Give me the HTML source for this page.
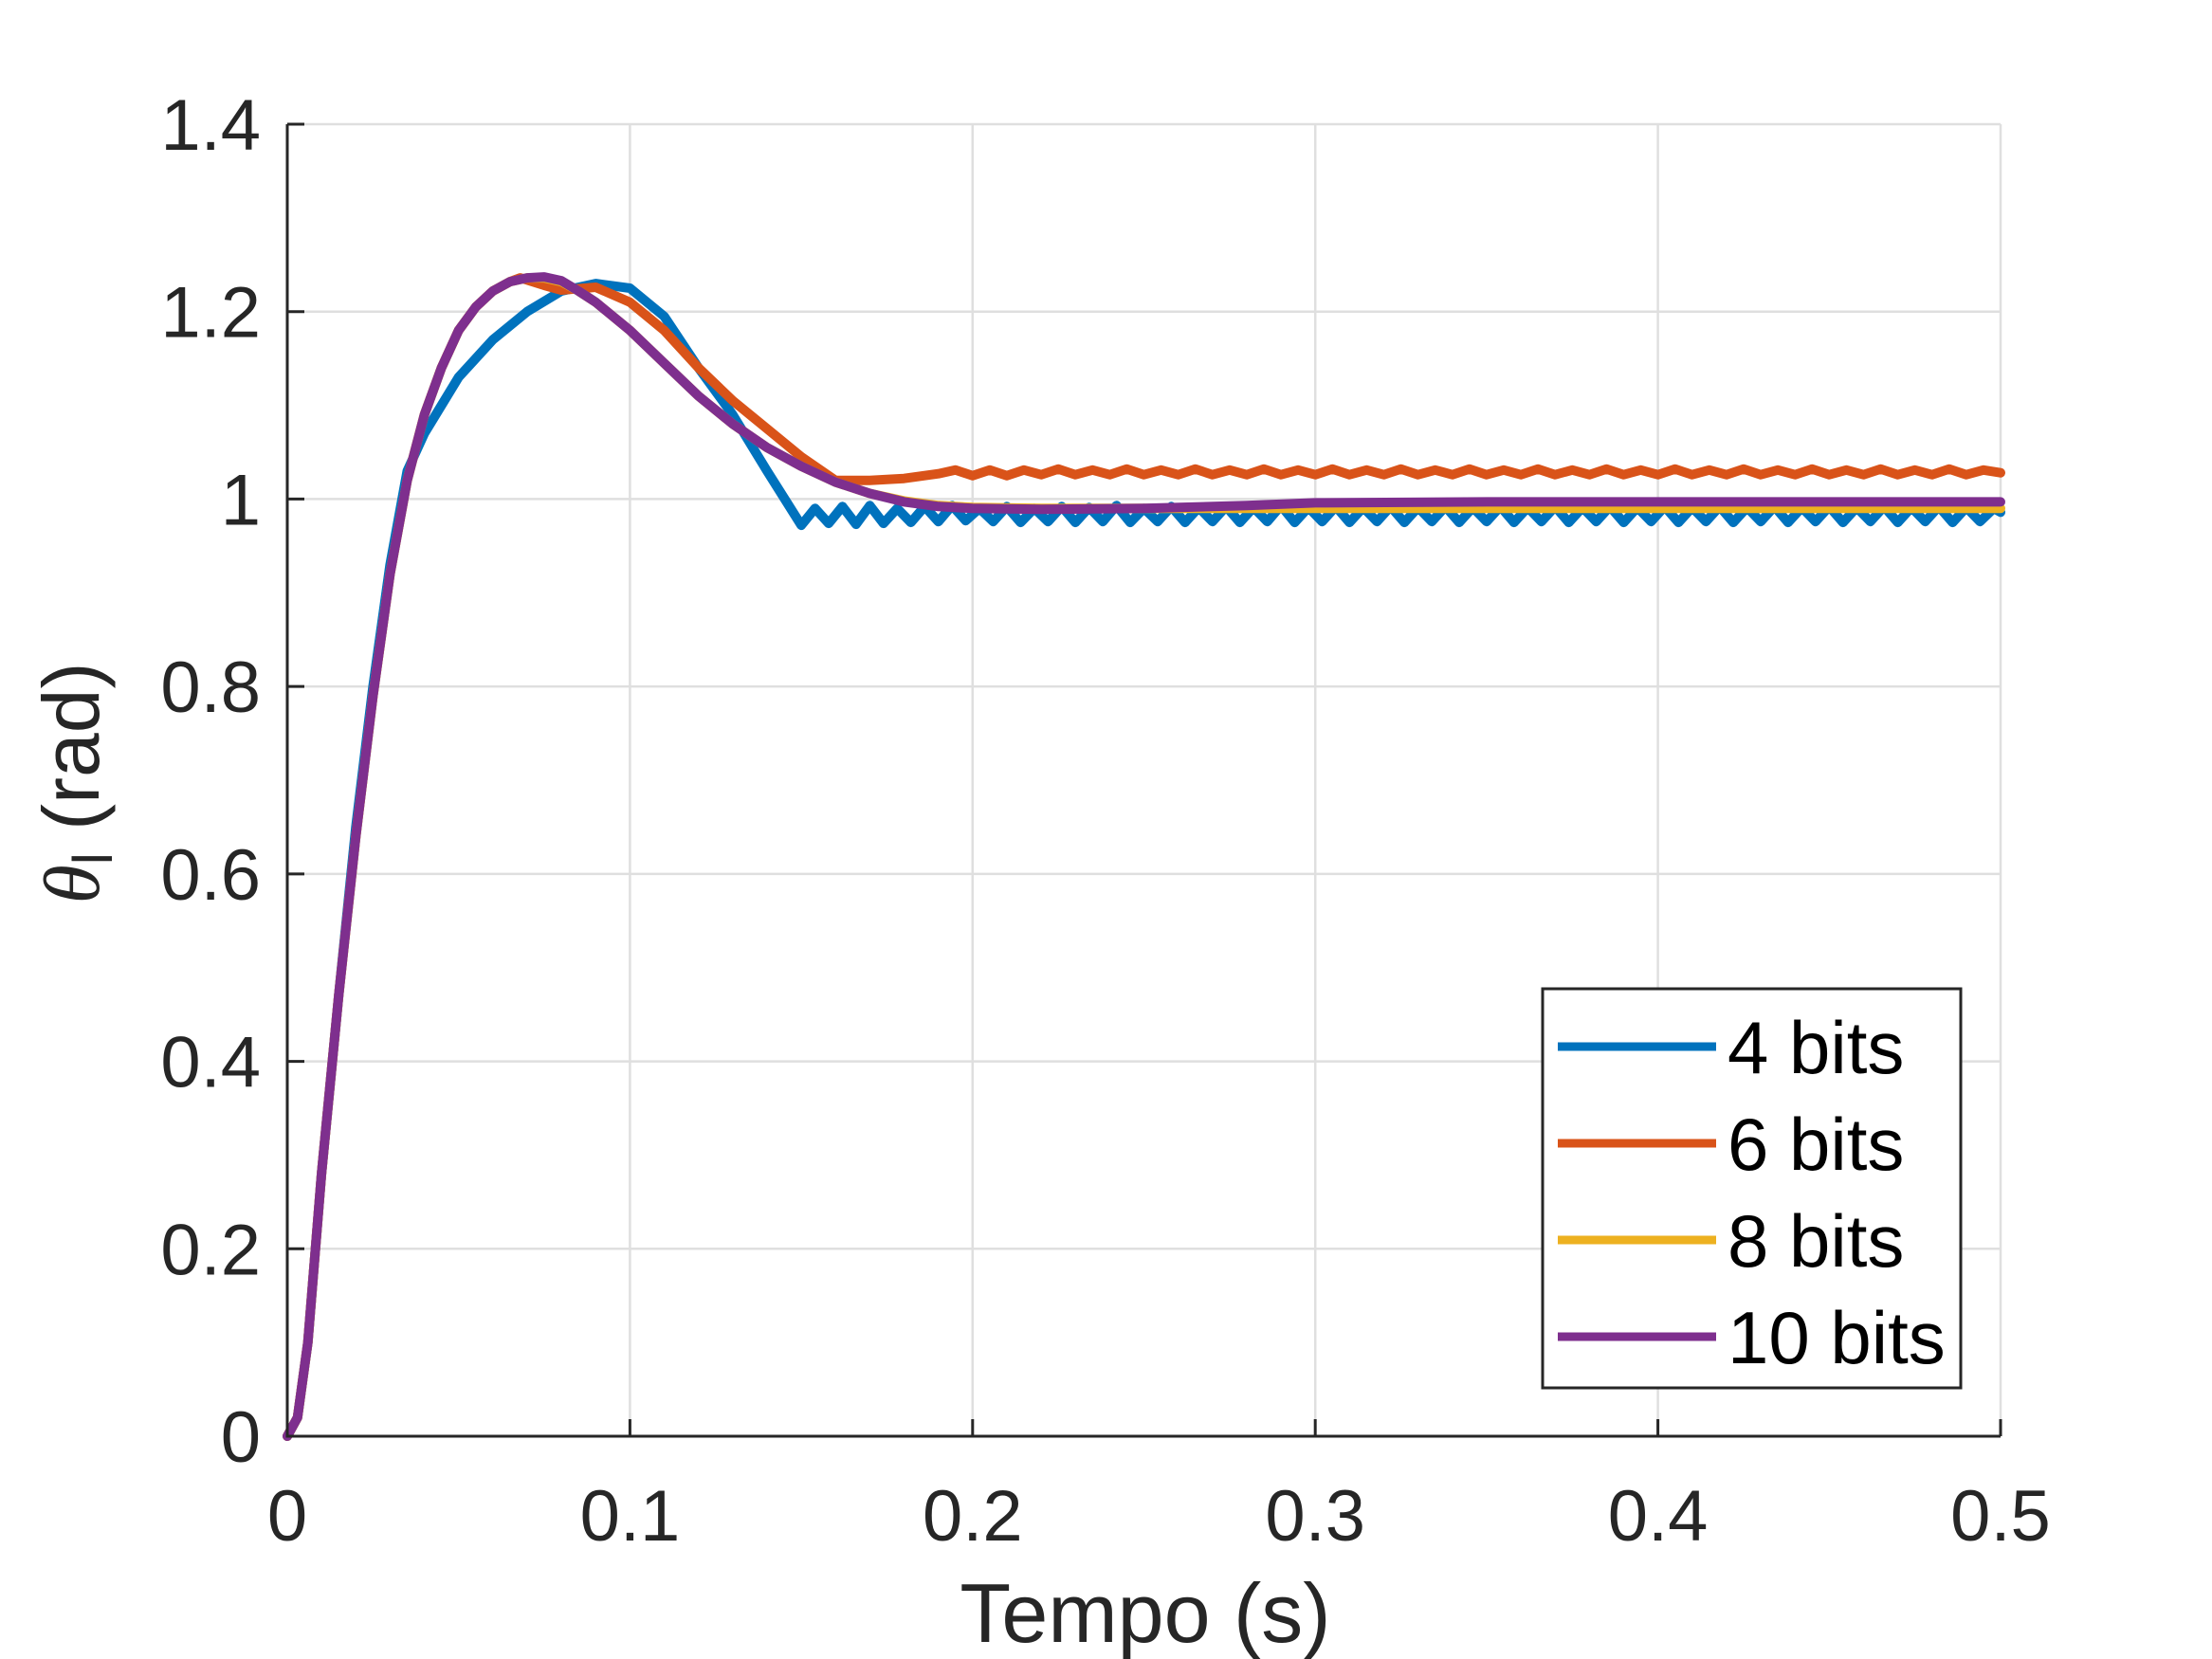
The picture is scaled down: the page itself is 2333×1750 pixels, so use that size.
<!DOCTYPE html>
<html><head><meta charset="utf-8"><style>
html,body{margin:0;padding:0;background:#fff;}
svg{display:block;font-family:"Liberation Sans",Arial,sans-serif;}
</style></head><body>
<svg id="chart" width="2333" height="1750" viewBox="0 0 2333 1750" xmlns="http://www.w3.org/2000/svg">
<rect width="2333" height="1750" fill="#fff"/>
<g id="grid"></g>
<g id="series"></g>
<g id="axes"></g>
<text x="1208" y="1732" font-size="88" fill="#262626" text-anchor="middle">Tempo (s)</text>
<text transform="translate(104,826) rotate(-90)" font-size="84" fill="#262626" text-anchor="middle"><tspan font-family="Liberation Serif" font-style="italic">θ</tspan><tspan font-size="58" dy="14">l</tspan><tspan dy="-14"> (rad)</tspan></text>
<g id="legend"></g>
</svg>
<script>
const xTicks=[0,0.1,0.2,0.3,0.4,0.5];
const yTicks=[0,0.2,0.4,0.6,0.8,1,1.2,1.4];
const xTickLabels=["0","0.1","0.2","0.3","0.4","0.5"];
const yTickLabels=["0","0.2","0.4","0.6","0.8","1","1.2","1.4"];
const seriesNames=["4 bits","6 bits","8 bits","10 bits"];
const seriesColors=["#0072BD","#D95319","#EDB120","#7E2F8E"];

const tBlue=[0,0.003,0.006,0.01,0.015,0.02,0.025,0.03,0.035,0.04,0.045,0.05,0.06,0.07,0.08,0.09,0.1,0.11,0.12,0.13,0.14,0.15,
0.154,0.158,0.162,0.166,0.17,0.174,0.178,0.182,0.186,0.19,0.194,0.198,0.202,0.206,0.21,0.214,0.218,0.222,0.226,0.23,0.234,0.238,0.242,0.246,0.25,0.254,0.258,0.262,0.266,0.27,0.274,0.278,0.282,0.286,0.29,0.294,0.298,0.302,0.306,0.31,0.314,0.318,0.322,0.326,0.33,0.334,0.338,0.342,0.346,0.35,0.354,0.358,0.362,0.366,0.37,0.374,0.378,0.382,0.386,0.39,0.394,0.398,0.402,0.406,0.41,0.414,0.418,0.422,0.426,0.43,0.434,0.438,0.442,0.446,0.45,0.454,0.458,0.462,0.466,0.47,0.474,0.478,0.482,0.486,0.49,0.494,0.498,0.5];
const yBlue=[0,0.02,0.1,0.28,0.47,0.65,0.8,0.93,1.03,1.07,1.1,1.13,1.17,1.2,1.222,1.23,1.225,1.195,1.14,1.09,1.03,0.972,
0.99,0.974,0.992,0.973,0.993,0.974,0.99,0.975,0.992,0.976,0.993,0.977,0.99,0.976,0.992,0.975,0.99,0.976,0.992,0.975,0.991,0.976,0.993,0.975,0.99,0.976,0.992,0.975,0.991,0.976,0.992,0.975,0.991,0.976,0.993,0.975,0.991,0.976,0.992,0.975,0.991,0.976,0.992,0.975,0.991,0.976,0.992,0.975,0.991,0.976,0.992,0.975,0.991,0.976,0.992,0.975,0.991,0.976,0.992,0.975,0.991,0.976,0.992,0.975,0.991,0.976,0.992,0.975,0.991,0.976,0.992,0.975,0.991,0.976,0.992,0.975,0.991,0.976,0.992,0.975,0.991,0.976,0.992,0.975,0.991,0.976,0.99,0.986];

const tOrange=[0,0.003,0.006,0.01,0.015,0.02,0.025,0.03,0.035,0.04,0.045,0.05,0.055,0.06,0.065,0.068,0.075,0.08,0.09,0.1,0.11,0.12,0.13,0.14,0.15,0.16,0.17,0.18,0.19,0.195,
0.2,0.205,0.21,0.215,0.22,0.225,0.23,0.235,0.24,0.245,0.25,0.255,0.26,0.265,0.27,0.275,0.28,0.285,0.29,0.295,0.3,0.305,0.31,0.315,0.32,0.325,0.33,0.335,0.34,0.345,0.35,0.355,0.36,0.365,0.37,0.375,0.38,0.385,0.39,0.395,0.4,0.405,0.41,0.415,0.42,0.425,0.43,0.435,0.44,0.445,0.45,0.455,0.46,0.465,0.47,0.475,0.48,0.485,0.49,0.495,0.5];
const yOrange=[0,0.02,0.1,0.28,0.47,0.64,0.79,0.92,1.02,1.09,1.14,1.18,1.205,1.222,1.232,1.236,1.228,1.223,1.226,1.21,1.18,1.14,1.105,1.075,1.045,1.02,1.02,1.022,1.027,1.031,
1.025,1.031,1.025,1.031,1.026,1.032,1.026,1.031,1.026,1.032,1.026,1.031,1.026,1.032,1.026,1.031,1.026,1.032,1.026,1.031,1.026,1.032,1.026,1.031,1.026,1.032,1.026,1.031,1.026,1.032,1.026,1.031,1.026,1.032,1.026,1.031,1.026,1.032,1.026,1.031,1.026,1.032,1.026,1.031,1.026,1.032,1.026,1.031,1.026,1.032,1.026,1.031,1.026,1.032,1.026,1.031,1.026,1.032,1.026,1.031,1.028];

const tSmooth=[0,0.003,0.006,0.01,0.015,0.02,0.025,0.03,0.035,0.04,0.045,0.05,0.055,0.06,0.065,0.07,0.075,0.08,0.085,0.09,0.1,0.11,0.12,0.13,0.14,0.15,0.16,0.17,0.18,0.19,0.2,0.22,0.25,0.28,0.3,0.35,0.4,0.45,0.5];
const yYellow=[0,0.02,0.1,0.28,0.47,0.64,0.79,0.92,1.02,1.09,1.14,1.18,1.205,1.222,1.232,1.236,1.236,1.232,1.222,1.21,1.18,1.145,1.11,1.08,1.055,1.035,1.018,1.006,0.998,0.993,0.991,0.99,0.99,0.99,0.99,0.99,0.99,0.99,0.99];
const yPurple=[0,0.02,0.1,0.28,0.47,0.64,0.79,0.92,1.02,1.09,1.14,1.18,1.205,1.222,1.232,1.236,1.237,1.233,1.222,1.21,1.18,1.145,1.11,1.08,1.055,1.035,1.018,1.006,0.997,0.992,0.99,0.989,0.99,0.993,0.996,0.997,0.997,0.997,0.997];

const L=303,R=2110,T=131,B=1515;
const sx=v=>L+(v-0)/(0.5)*(R-L);
const sy=v=>B-(v-0)/(1.4)*(B-T);
const NS="http://www.w3.org/2000/svg";
function mk(tag,attrs,parent){const e=document.createElementNS(NS,tag);for(const k in attrs)e.setAttribute(k,attrs[k]);parent.appendChild(e);return e;}
const grid=document.getElementById('grid'),axes=document.getElementById('axes'),ser=document.getElementById('series'),leg=document.getElementById('legend');

xTicks.forEach((v,i)=>{
  const g=mk('line',{x1:sx(v),x2:sx(v),y1:T,y2:B,stroke:'#dfdfdf','stroke-width':2.5},grid);
  
  
  const t=mk('line',{x1:sx(v),x2:sx(v),y1:B,y2:B-18,stroke:'#262626','stroke-width':3},axes);
  
  
  const l=mk('text',{x:sx(v),y:1625,'font-size':76,fill:'#262626','text-anchor':'middle'},axes);
  l.textContent=xTickLabels[i];
  
  
});
yTicks.forEach((v,i)=>{
  const g=mk('line',{x1:L,x2:R,y1:sy(v),y2:sy(v),stroke:'#dfdfdf','stroke-width':2.5},grid);
  
  
  const t=mk('line',{x1:L,x2:L+18,y1:sy(v),y2:sy(v),stroke:'#262626','stroke-width':3},axes);
  
  
  const l=mk('text',{x:275,y:sy(v)+27,'font-size':76,fill:'#262626','text-anchor':'end'},axes);
  l.textContent=yTickLabels[i];
  
  
});
const ax=mk('path',{d:`M${L},${T} L${L},${B} L${R},${B}`,fill:'none',stroke:'#262626','stroke-width':3},axes);



const all=[[tBlue,yBlue],[tOrange,yOrange],[tSmooth,yYellow],[tSmooth,yPurple]];
const names=['series-4-bits','series-6-bits','series-8-bits','series-10-bits'];
all.forEach((s,k)=>{
  const d=s[0].map((t,i)=>(i?'L':'M')+sx(t).toFixed(1)+','+sy(s[1][i]).toFixed(1)).join(' ');
  const p=mk('path',{d:d,fill:'none',stroke:seriesColors[k],'stroke-width':10,'stroke-linejoin':'round','stroke-linecap':'round'},ser);
  
  
});

const box=mk('rect',{x:1627,y:1043,width:441,height:421,fill:'#fff',stroke:'#262626','stroke-width':3},leg);


const rows=[1104,1206,1308,1410];
seriesNames.forEach((n,k)=>{
  const ln=mk('line',{x1:1643,x2:1810,y1:rows[k],y2:rows[k],stroke:seriesColors[k],'stroke-width':9},leg);
  
  
  const tx=mk('text',{x:1822,y:rows[k]+28,'font-size':78,fill:'#000'},leg);
  tx.textContent=n;
  
  
});
</script>
</body></html>
